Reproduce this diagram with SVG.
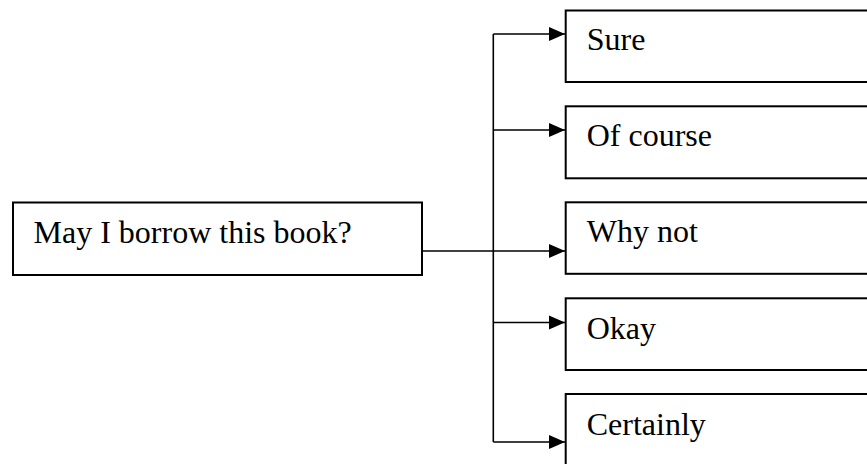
<svg xmlns="http://www.w3.org/2000/svg" width="867" height="464" viewBox="0 0 867 464">
<style>
.box{fill:#fff;stroke:#000;stroke-width:2}
.lbl{font-family:"Liberation Serif","Times New Roman",serif;font-size:32px;fill:#000}
.ln{fill:none;stroke:#000;stroke-width:1.6}
</style>
<defs>
<marker id="ah" markerUnits="userSpaceOnUse" markerWidth="17" markerHeight="17" viewBox="0 0 17 17" refX="16" refY="8.5" orient="auto">
<path d="M0,1.5 L16,8.5 L0,15.5 Z" fill="#000"/>
</marker>
</defs>
<rect width="867" height="464" fill="#fff"/>
<g id="connectors">
<line class="ln" x1="493.3" y1="34" x2="493.3" y2="442"/>
<line class="ln" x1="422" y1="251" x2="565" y2="251" marker-end="url(#ah)"/>
<line class="ln" x1="493.3" y1="34" x2="565" y2="34" marker-end="url(#ah)"/>
<line class="ln" x1="493.3" y1="130" x2="565" y2="130" marker-end="url(#ah)"/>
<line class="ln" x1="493.3" y1="322.5" x2="565" y2="322.5" marker-end="url(#ah)"/>
<line class="ln" x1="493.3" y1="442" x2="565" y2="442" marker-end="url(#ah)"/>
</g>
<g id="question">
<rect class="box" x="13" y="202.5" width="409" height="72.5"/>
<text class="lbl" x="33.5" y="243">May I borrow this book?</text>
</g>
<g id="sure">
<rect class="box" x="565.7" y="10.5" width="320" height="71.5"/>
<text class="lbl" x="586.7" y="50">Sure</text>
</g>
<g id="ofcourse">
<rect class="box" x="565.7" y="106.3" width="320" height="72"/>
<text class="lbl" x="586.7" y="146">Of course</text>
</g>
<g id="whynot">
<rect class="box" x="565.7" y="202.3" width="320" height="71.5"/>
<text class="lbl" x="586.7" y="242">Why not</text>
</g>
<g id="okay">
<rect class="box" x="565.7" y="298.3" width="320" height="71.7"/>
<text class="lbl" x="586.7" y="339">Okay</text>
</g>
<g id="certainly">
<rect class="box" x="565.7" y="394" width="320" height="80"/>
<text class="lbl" x="586.7" y="435">Certainly</text>
</g>
</svg>
